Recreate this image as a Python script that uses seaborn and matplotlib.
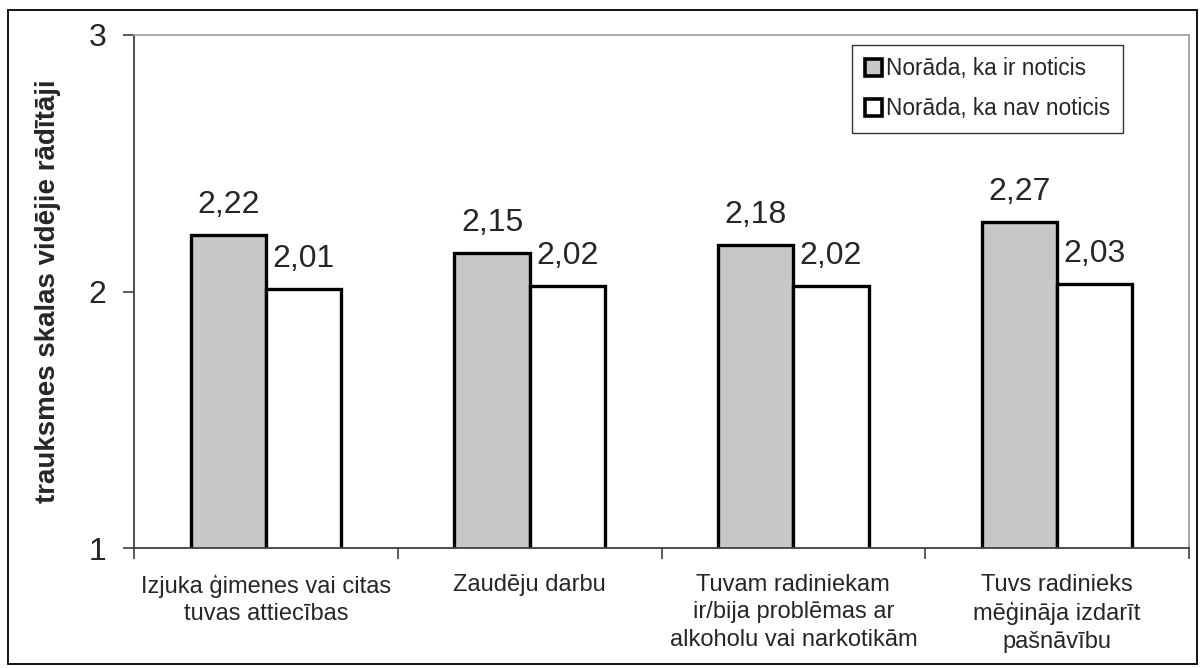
import matplotlib
matplotlib.use("Agg")
import matplotlib.pyplot as plt
import seaborn as sns
import pandas as pd
from matplotlib.patches import Rectangle, Patch
from matplotlib.ticker import FixedLocator

categories = [
    "Izjuka ģimenes vai citas\ntuvas attiecības",
    "Zaudēju darbu",
    "Tuvam radiniekam\nir/bija problēmas ar\nalkoholu vai narkotikām",
    "Tuvs radinieks\nmēģināja izdarīt\npašnāvību",
]
series_names = ["Norāda, ka ir noticis", "Norāda, ka nav noticis"]
values_yes = [2.22, 2.15, 2.18, 2.27]
values_no = [2.01, 2.02, 2.02, 2.03]
y_ticks = [1, 2, 3]
y_label = "trauksmes skalas vidējie rādītāji"

sns.set_theme(style="white")
plt.rcParams["font.family"] = ["Liberation Sans", "DejaVu Sans"]

df = pd.DataFrame({
    "cat": categories * 2,
    "series": [series_names[0]] * 4 + [series_names[1]] * 4,
    "val": values_yes + values_no,
})

fig = plt.figure(figsize=(12.01, 6.68), dpi=100)
ax = fig.add_axes([134 / 1201, 1 - 548 / 668, (1189 - 134) / 1201, (548 - 35) / 668])

palette = {series_names[0]: "#c8c8c8", series_names[1]: "#ffffff"}
sns.barplot(data=df, x="cat", y="val", hue="series", palette=palette,
            order=categories, hue_order=series_names, width=0.57,
            edgecolor="black", linewidth=2.4, ax=ax, legend=False,
            saturation=1)

ax.set_ylim(1, 3)
ax.set_xlim(-0.5, 3.5)

for cont in ax.containers:
    labels = [f"{v:.2f}".replace(".", ",") for v in cont.datavalues]
    ax.bar_label(cont, labels=labels, padding=11, fontsize=23)

ax.set_yticks(y_ticks)
ax.set_yticklabels([str(t) for t in y_ticks], fontsize=23)
ax.tick_params(axis="y", direction="out", length=8, width=1.2, color="#404040", pad=12, left=True)
ax.set_xticks(range(len(categories)))
ax.set_xticklabels(categories, fontsize=17, linespacing=1.3)
ax.tick_params(axis="x", which="major", length=0, pad=19)
ax.xaxis.set_minor_locator(FixedLocator([-0.5, 0.5, 1.5, 2.5, 3.5]))
ax.tick_params(axis="x", which="minor", direction="out", length=8, width=1.2, color="#404040", bottom=True)
ax.set_xlabel("")
ax.set_ylabel(y_label, fontsize=20, fontweight="bold", labelpad=20)

for s in ["left", "bottom"]:
    ax.spines[s].set_color("#404040")
    ax.spines[s].set_linewidth(1.3)
for s in ["top", "right"]:
    ax.spines[s].set_color("#a0a0a0")
    ax.spines[s].set_linewidth(1.3)

handles = [Patch(facecolor=palette[n], edgecolor="black", linewidth=2.6) for n in series_names]
leg = ax.legend(handles, series_names, loc="upper right", bbox_to_anchor=(1123 / 1201, 1 - 45 / 668),
                bbox_transform=fig.transFigure, fontsize=16.3, frameon=True, fancybox=False,
                edgecolor="black", handlelength=0.75, handleheight=0.75, handletextpad=0.2,
                labelspacing=0.75, borderpad=0.55, borderaxespad=0)
leg.get_frame().set_linewidth(1.0)

fig.patches.append(Rectangle((8 / 1201, 1 - 664 / 668), (1197 - 8) / 1201, (664 - 10) / 668,
                             transform=fig.transFigure, fill=False, edgecolor="black", linewidth=1.3))

fig.savefig("out.png", dpi=100)
